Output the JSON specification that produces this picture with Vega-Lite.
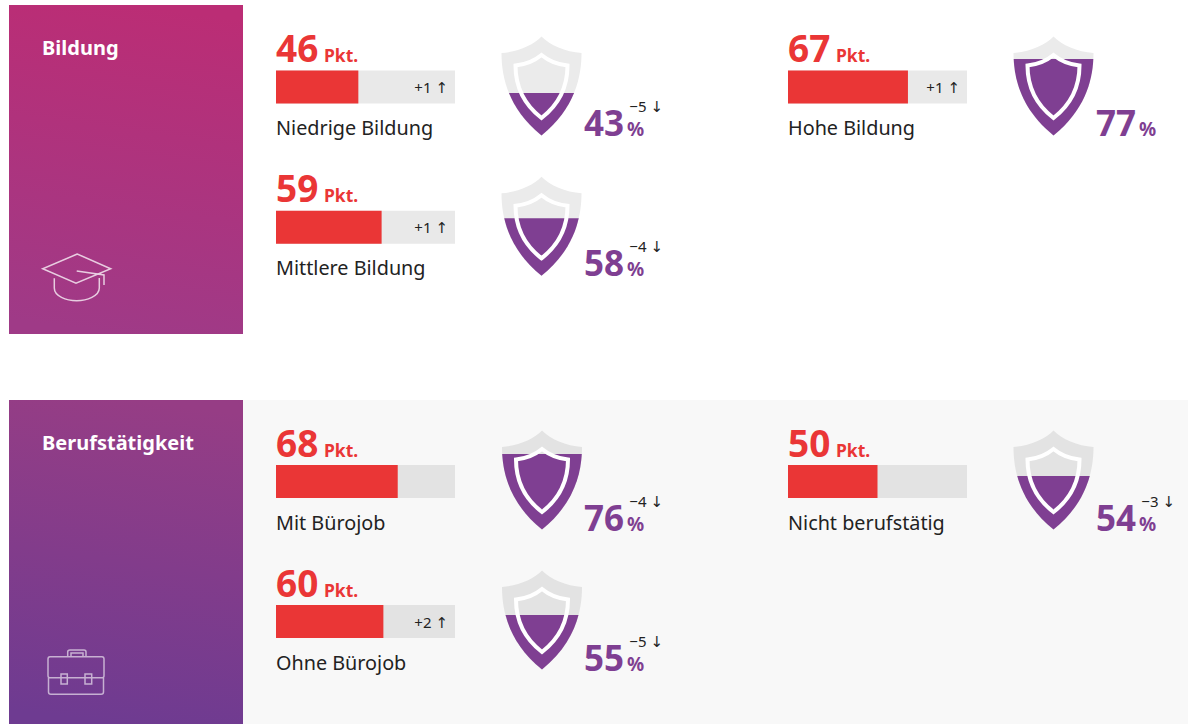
{"$schema":"https://vega.github.io/schema/vega-lite/v6.json","background":"white","padding":{"left":9,"top":5,"right":0,"bottom":0},"spacing":66,"config":{"view":{"stroke":null},"concat":{"spacing":0},"axis":{"disable":true},"text":{"font":"Noto Sans"},"point":{"opacity":1}},
"datasets":{"rows":[
{"group":"Bildung","label":"Niedrige Bildung","score":46,"scoreChange":"+1 ↑","pct":43,"pctChange":"−5 ↓"},
{"group":"Bildung","label":"Mittlere Bildung","score":59,"scoreChange":"+1 ↑","pct":58,"pctChange":"−4 ↓"},
{"group":"Bildung","label":"Hohe Bildung","score":67,"scoreChange":"+1 ↑","pct":77,"pctChange":""},
{"group":"Berufstätigkeit","label":"Mit Bürojob","score":68,"scoreChange":"","pct":76,"pctChange":"−4 ↓"},
{"group":"Berufstätigkeit","label":"Ohne Bürojob","score":60,"scoreChange":"+2 ↑","pct":55,"pctChange":"−5 ↓"},
{"group":"Berufstätigkeit","label":"Nicht berufstätig","score":50,"scoreChange":"","pct":54,"pctChange":"−3 ↓"}
],"groups":[{"group":"Bildung"},{"group":"Berufstätigkeit"}]},
"vconcat":[
{"hconcat":[
{"width":234,"height":329,"data":{"name":"groups"},"transform":[{"filter":"datum.group==='Bildung'"}],
"encoding":{"x":{"datum":0,"scale":{"domain":[0,1],"range":[0,234]},"axis":null},"y":{"datum":0,"scale":{"domain":[0,1],"range":[0,329]},"axis":null}},
"layer":[
{"mark":{"type":"rect","color":{"gradient":"linear","x1":0.55,"y1":0,"x2":0.45,"y2":1,"stops":[{"offset":0,"color":"#bb2d75"},{"offset":1,"color":"#9f3a87"}]}},"encoding":{"x2":{"datum":1},"y2":{"datum":1}}},
{"mark":{"type":"text","align":"left","baseline":"alphabetic","fontWeight":"bold","fontSize":20,"color":"white","xOffset":33,"yOffset":50},"encoding":{"text":{"field":"group"}}},
{"mark":{"type":"point","filled":false,"size":4,"stroke":"white","strokeWidth":1.5,"strokeOpacity":0.75,"xOffset":67,"yOffset":272,"shape":"M1.3 -23L-33.3 -8.3L0 6.3L34.7 -8.3ZM-21.7 1.3V11C-21.7 19 -10 23.7 .7 23.7C11 23.7 23.3 19 23.3 11V1M.7 -6L28 -2V8"},"encoding":{}}
]},
{"width":512,"height":329,"data":{"name":"rows"},"transform":[{"filter":{"field":"label","oneOf":["Niedrige Bildung","Mittlere Bildung"]}}],
"encoding":{"y":{"field":"label","type":"ordinal","scale":{"type":"point","domain":["Niedrige Bildung","Mittlere Bildung"],"range":[82,222.3],"padding":0},"axis":null}},
"layer":[
{"mark":{"type":"bar","height":33,"color":"#e9e9e9"},"encoding":{"x":{"datum":100,"scale":{"domain":[0,100],"range":[33,212]}},"x2":{"datum":0}}},
{"mark":{"type":"bar","height":33,"color":"#ea3636"},"encoding":{"x":{"field":"score","type":"quantitative","stack":null,"scale":{"domain":[0,100],"range":[33,212]}}}},
{"mark":{"type":"text","align":"left","baseline":"alphabetic","fontWeight":"bold","fontSize":37,"color":"#ea3636","yOffset":-25},"encoding":{"x":{"datum":0},"text":{"field":"score"}}},
{"mark":{"type":"text","align":"left","baseline":"alphabetic","fontWeight":"bold","fontSize":17.5,"color":"#ea3636","text":"Pkt.","xOffset":48,"yOffset":-25},"encoding":{"x":{"datum":0}}},
{"mark":{"type":"text","font":"Noto Sans, DejaVu Sans","align":"right","baseline":"alphabetic","fontSize":15,"color":"#222222","xOffset":-7,"yOffset":6},"encoding":{"x":{"datum":100},"text":{"field":"scoreChange"}}},
{"mark":{"type":"text","align":"left","baseline":"alphabetic","fontSize":19.8,"color":"#222222","yOffset":48},"encoding":{"x":{"datum":0},"text":{"field":"label"}}},
{"mark":{"type":"point","filled":true,"size":4,"color":"#ebebeb","xOffset":265.5,"yOffset":-1,"shape":"M0 -49.5C-8 -41 -24 -34 -40 -33C-40 -10 -34 22 0 49.5C34 22 40 -10 40 -33C24 -34 8 -41 0 -49.5Z"},"encoding":{"x":{"datum":0}}},
{"mark":{"type":"point","filled":true,"size":4,"color":"#7f3f92","xOffset":265.5,"yOffset":-1},"encoding":{"x":{"datum":0},"shape":{"field":"pct","type":"nominal","legend":null,"scale":{"domain":[43,58,77,76,55,54],"range":["M-32.56 7C-26.8 21.17 -16.83 35.89 0 49.5C16.83 35.89 26.8 21.17 32.56 7Z","M-37.23 -8C-33.08 10.44 -22.88 30.99 0 49.5C22.88 30.99 33.08 10.44 37.23 -8Z","M-39.83 -27C-38.8 -4.65 -31.14 24.31 0 49.5C31.14 24.31 38.8 -4.65 39.83 -27Z","M-39.8 -26C-38.55 -3.77 -30.67 24.7 0 49.5C30.67 24.7 38.55 -3.77 39.8 -26Z","M-36.48 -5C-31.95 12.64 -21.66 31.98 0 49.5C21.66 31.98 31.95 12.64 36.48 -5Z","M-36.23 -4C-31.56 13.37 -21.25 32.31 0 49.5C21.25 32.31 31.56 13.37 36.23 -4Z"]}}}},
{"mark":{"type":"point","filled":false,"size":4,"stroke":"white","strokeWidth":4,"xOffset":265.5,"yOffset":-1,"shape":"M0 -31C-6 -26 -16 -21.5 -26 -20.5C-26 -5 -22 15 0 32C22 15 26 -5 26 -20.5C16 -21.5 6 -26 0 -31Z"},"encoding":{"x":{"datum":0}}},
{"mark":{"type":"text","align":"right","baseline":"alphabetic","fontWeight":"bold","fontSize":35,"color":"#7f3f92","xOffset":348,"yOffset":49},"encoding":{"x":{"datum":0},"text":{"field":"pct"}}},
{"mark":{"type":"text","align":"left","baseline":"alphabetic","fontWeight":"bold","fontSize":19,"color":"#7f3f92","text":"%","xOffset":351,"yOffset":49},"encoding":{"x":{"datum":0}}},
{"mark":{"type":"text","font":"Noto Sans, DejaVu Sans","align":"right","baseline":"alphabetic","fontSize":15,"color":"#222222","xOffset":387,"yOffset":25},"encoding":{"x":{"datum":0},"text":{"field":"pctChange"}}}
]},
{"width":433,"height":329,"data":{"name":"rows"},"transform":[{"filter":{"field":"label","oneOf":["Hohe Bildung"]}}],
"encoding":{"y":{"field":"label","type":"ordinal","scale":{"type":"point","domain":["Hohe Bildung","(leer)"],"range":[82,222.3],"padding":0},"axis":null}},
"layer":[
{"mark":{"type":"bar","height":33,"color":"#e9e9e9"},"encoding":{"x":{"datum":100,"scale":{"domain":[0,100],"range":[33,212]}},"x2":{"datum":0}}},
{"mark":{"type":"bar","height":33,"color":"#ea3636"},"encoding":{"x":{"field":"score","type":"quantitative","stack":null,"scale":{"domain":[0,100],"range":[33,212]}}}},
{"mark":{"type":"text","align":"left","baseline":"alphabetic","fontWeight":"bold","fontSize":37,"color":"#ea3636","yOffset":-25},"encoding":{"x":{"datum":0},"text":{"field":"score"}}},
{"mark":{"type":"text","align":"left","baseline":"alphabetic","fontWeight":"bold","fontSize":17.5,"color":"#ea3636","text":"Pkt.","xOffset":48,"yOffset":-25},"encoding":{"x":{"datum":0}}},
{"mark":{"type":"text","font":"Noto Sans, DejaVu Sans","align":"right","baseline":"alphabetic","fontSize":15,"color":"#222222","xOffset":-7,"yOffset":6},"encoding":{"x":{"datum":100},"text":{"field":"scoreChange"}}},
{"mark":{"type":"text","align":"left","baseline":"alphabetic","fontSize":19.8,"color":"#222222","yOffset":48},"encoding":{"x":{"datum":0},"text":{"field":"label"}}},
{"mark":{"type":"point","filled":true,"size":4,"color":"#ebebeb","xOffset":265.5,"yOffset":-1,"shape":"M0 -49.5C-8 -41 -24 -34 -40 -33C-40 -10 -34 22 0 49.5C34 22 40 -10 40 -33C24 -34 8 -41 0 -49.5Z"},"encoding":{"x":{"datum":0}}},
{"mark":{"type":"point","filled":true,"size":4,"color":"#7f3f92","xOffset":265.5,"yOffset":-1},"encoding":{"x":{"datum":0},"shape":{"field":"pct","type":"nominal","legend":null,"scale":{"domain":[43,58,77,76,55,54],"range":["M-32.56 7C-26.8 21.17 -16.83 35.89 0 49.5C16.83 35.89 26.8 21.17 32.56 7Z","M-37.23 -8C-33.08 10.44 -22.88 30.99 0 49.5C22.88 30.99 33.08 10.44 37.23 -8Z","M-39.83 -27C-38.8 -4.65 -31.14 24.31 0 49.5C31.14 24.31 38.8 -4.65 39.83 -27Z","M-39.8 -26C-38.55 -3.77 -30.67 24.7 0 49.5C30.67 24.7 38.55 -3.77 39.8 -26Z","M-36.48 -5C-31.95 12.64 -21.66 31.98 0 49.5C21.66 31.98 31.95 12.64 36.48 -5Z","M-36.23 -4C-31.56 13.37 -21.25 32.31 0 49.5C21.25 32.31 31.56 13.37 36.23 -4Z"]}}}},
{"mark":{"type":"point","filled":false,"size":4,"stroke":"white","strokeWidth":4,"xOffset":265.5,"yOffset":-1,"shape":"M0 -31C-6 -26 -16 -21.5 -26 -20.5C-26 -5 -22 15 0 32C22 15 26 -5 26 -20.5C16 -21.5 6 -26 0 -31Z"},"encoding":{"x":{"datum":0}}},
{"mark":{"type":"text","align":"right","baseline":"alphabetic","fontWeight":"bold","fontSize":35,"color":"#7f3f92","xOffset":348,"yOffset":49},"encoding":{"x":{"datum":0},"text":{"field":"pct"}}},
{"mark":{"type":"text","align":"left","baseline":"alphabetic","fontWeight":"bold","fontSize":19,"color":"#7f3f92","text":"%","xOffset":351,"yOffset":49},"encoding":{"x":{"datum":0}}}
]}
]},
{"hconcat":[
{"width":234,"height":324,"data":{"name":"groups"},"transform":[{"filter":"datum.group==='Berufstätigkeit'"}],
"encoding":{"x":{"datum":0,"scale":{"domain":[0,1],"range":[0,234]},"axis":null},"y":{"datum":0,"scale":{"domain":[0,1],"range":[0,324]},"axis":null}},
"layer":[
{"mark":{"type":"rect","color":{"gradient":"linear","x1":0.55,"y1":0,"x2":0.45,"y2":1,"stops":[{"offset":0,"color":"#963d85"},{"offset":1,"color":"#6e3b91"}]}},"encoding":{"x2":{"datum":1},"y2":{"datum":1}}},
{"mark":{"type":"text","align":"left","baseline":"alphabetic","fontWeight":"bold","fontSize":20,"color":"white","xOffset":33,"yOffset":50},"encoding":{"text":{"field":"group"}}},
{"mark":{"type":"point","filled":false,"size":4,"stroke":"white","strokeWidth":1.5,"strokeOpacity":0.6,"xOffset":67,"yOffset":272,"shape":"M-26 -15.3H26Q28 -15.3 28 -13V3.7Q28 5.7 26 5.7H-26Q-28 5.7 -28 3.7V-13Q-28 -15.3 -26 -15.3ZM-27.5 5.7V20Q-27.5 22.3 -25 22.3H25Q27.5 22.3 27.5 20V5.7M-8.3 -15.3V-20Q-8.3 -22 -6 -22H8Q10 -22 10 -20V-15.3M-5 -15.3V-19H7V-15.3M-15 2H-8.7V12H-15ZM9 2H15.7V12H9Z"},"encoding":{}}
]},
{"width":512,"height":324,"view":{"fill":"#f8f8f8","stroke":null},"data":{"name":"rows"},"transform":[{"filter":{"field":"label","oneOf":["Mit Bürojob","Ohne Bürojob"]}}],
"encoding":{"y":{"field":"label","type":"ordinal","scale":{"type":"point","domain":["Mit Bürojob","Ohne Bürojob"],"range":[81.5,221.5],"padding":0},"axis":null}},
"layer":[
{"mark":{"type":"bar","height":33,"color":"#e3e3e3"},"encoding":{"x":{"datum":100,"scale":{"domain":[0,100],"range":[33,212]}},"x2":{"datum":0}}},
{"mark":{"type":"bar","height":33,"color":"#ea3636"},"encoding":{"x":{"field":"score","type":"quantitative","stack":null,"scale":{"domain":[0,100],"range":[33,212]}}}},
{"mark":{"type":"text","align":"left","baseline":"alphabetic","fontWeight":"bold","fontSize":37,"color":"#ea3636","yOffset":-25},"encoding":{"x":{"datum":0},"text":{"field":"score"}}},
{"mark":{"type":"text","align":"left","baseline":"alphabetic","fontWeight":"bold","fontSize":17.5,"color":"#ea3636","text":"Pkt.","xOffset":48,"yOffset":-25},"encoding":{"x":{"datum":0}}},
{"mark":{"type":"text","font":"Noto Sans, DejaVu Sans","align":"right","baseline":"alphabetic","fontSize":15,"color":"#222222","xOffset":-7,"yOffset":6},"encoding":{"x":{"datum":100},"text":{"field":"scoreChange"}}},
{"mark":{"type":"text","align":"left","baseline":"alphabetic","fontSize":19.8,"color":"#222222","yOffset":48},"encoding":{"x":{"datum":0},"text":{"field":"label"}}},
{"mark":{"type":"point","filled":true,"size":4,"color":"#e3e3e3","xOffset":266,"yOffset":-1.5,"shape":"M0 -49.5C-8 -41 -24 -34 -40 -33C-40 -10 -34 22 0 49.5C34 22 40 -10 40 -33C24 -34 8 -41 0 -49.5Z"},"encoding":{"x":{"datum":0}}},
{"mark":{"type":"point","filled":true,"size":4,"color":"#7f3f92","xOffset":266,"yOffset":-1.5},"encoding":{"x":{"datum":0},"shape":{"field":"pct","type":"nominal","legend":null,"scale":{"domain":[43,58,77,76,55,54],"range":["M-32.56 7C-26.8 21.17 -16.83 35.89 0 49.5C16.83 35.89 26.8 21.17 32.56 7Z","M-37.23 -8C-33.08 10.44 -22.88 30.99 0 49.5C22.88 30.99 33.08 10.44 37.23 -8Z","M-39.83 -27C-38.8 -4.65 -31.14 24.31 0 49.5C31.14 24.31 38.8 -4.65 39.83 -27Z","M-39.8 -26C-38.55 -3.77 -30.67 24.7 0 49.5C30.67 24.7 38.55 -3.77 39.8 -26Z","M-36.48 -5C-31.95 12.64 -21.66 31.98 0 49.5C21.66 31.98 31.95 12.64 36.48 -5Z","M-36.23 -4C-31.56 13.37 -21.25 32.31 0 49.5C21.25 32.31 31.56 13.37 36.23 -4Z"]}}}},
{"mark":{"type":"point","filled":false,"size":4,"stroke":"white","strokeWidth":4,"xOffset":266,"yOffset":-1.5,"shape":"M0 -31C-6 -26 -16 -21.5 -26 -20.5C-26 -5 -22 15 0 32C22 15 26 -5 26 -20.5C16 -21.5 6 -26 0 -31Z"},"encoding":{"x":{"datum":0}}},
{"mark":{"type":"text","align":"right","baseline":"alphabetic","fontWeight":"bold","fontSize":35,"color":"#7f3f92","xOffset":348,"yOffset":49},"encoding":{"x":{"datum":0},"text":{"field":"pct"}}},
{"mark":{"type":"text","align":"left","baseline":"alphabetic","fontWeight":"bold","fontSize":19,"color":"#7f3f92","text":"%","xOffset":351,"yOffset":49},"encoding":{"x":{"datum":0}}},
{"mark":{"type":"text","font":"Noto Sans, DejaVu Sans","align":"right","baseline":"alphabetic","fontSize":15,"color":"#222222","xOffset":387,"yOffset":25},"encoding":{"x":{"datum":0},"text":{"field":"pctChange"}}}
]},
{"width":433,"height":324,"view":{"fill":"#f8f8f8","stroke":null},"data":{"name":"rows"},"transform":[{"filter":{"field":"label","oneOf":["Nicht berufstätig"]}}],
"encoding":{"y":{"field":"label","type":"ordinal","scale":{"type":"point","domain":["Nicht berufstätig","(leer)"],"range":[81.5,221.5],"padding":0},"axis":null}},
"layer":[
{"mark":{"type":"bar","height":33,"color":"#e3e3e3"},"encoding":{"x":{"datum":100,"scale":{"domain":[0,100],"range":[33,212]}},"x2":{"datum":0}}},
{"mark":{"type":"bar","height":33,"color":"#ea3636"},"encoding":{"x":{"field":"score","type":"quantitative","stack":null,"scale":{"domain":[0,100],"range":[33,212]}}}},
{"mark":{"type":"text","align":"left","baseline":"alphabetic","fontWeight":"bold","fontSize":37,"color":"#ea3636","yOffset":-25},"encoding":{"x":{"datum":0},"text":{"field":"score"}}},
{"mark":{"type":"text","align":"left","baseline":"alphabetic","fontWeight":"bold","fontSize":17.5,"color":"#ea3636","text":"Pkt.","xOffset":48,"yOffset":-25},"encoding":{"x":{"datum":0}}},
{"mark":{"type":"text","align":"left","baseline":"alphabetic","fontSize":19.8,"color":"#222222","yOffset":48},"encoding":{"x":{"datum":0},"text":{"field":"label"}}},
{"mark":{"type":"point","filled":true,"size":4,"color":"#e3e3e3","xOffset":265.5,"yOffset":-1.5,"shape":"M0 -49.5C-8 -41 -24 -34 -40 -33C-40 -10 -34 22 0 49.5C34 22 40 -10 40 -33C24 -34 8 -41 0 -49.5Z"},"encoding":{"x":{"datum":0}}},
{"mark":{"type":"point","filled":true,"size":4,"color":"#7f3f92","xOffset":265.5,"yOffset":-1.5},"encoding":{"x":{"datum":0},"shape":{"field":"pct","type":"nominal","legend":null,"scale":{"domain":[43,58,77,76,55,54],"range":["M-32.56 7C-26.8 21.17 -16.83 35.89 0 49.5C16.83 35.89 26.8 21.17 32.56 7Z","M-37.23 -8C-33.08 10.44 -22.88 30.99 0 49.5C22.88 30.99 33.08 10.44 37.23 -8Z","M-39.83 -27C-38.8 -4.65 -31.14 24.31 0 49.5C31.14 24.31 38.8 -4.65 39.83 -27Z","M-39.8 -26C-38.55 -3.77 -30.67 24.7 0 49.5C30.67 24.7 38.55 -3.77 39.8 -26Z","M-36.48 -5C-31.95 12.64 -21.66 31.98 0 49.5C21.66 31.98 31.95 12.64 36.48 -5Z","M-36.23 -4C-31.56 13.37 -21.25 32.31 0 49.5C21.25 32.31 31.56 13.37 36.23 -4Z"]}}}},
{"mark":{"type":"point","filled":false,"size":4,"stroke":"white","strokeWidth":4,"xOffset":265.5,"yOffset":-1.5,"shape":"M0 -31C-6 -26 -16 -21.5 -26 -20.5C-26 -5 -22 15 0 32C22 15 26 -5 26 -20.5C16 -21.5 6 -26 0 -31Z"},"encoding":{"x":{"datum":0}}},
{"mark":{"type":"text","align":"right","baseline":"alphabetic","fontWeight":"bold","fontSize":35,"color":"#7f3f92","xOffset":348,"yOffset":49},"encoding":{"x":{"datum":0},"text":{"field":"pct"}}},
{"mark":{"type":"text","align":"left","baseline":"alphabetic","fontWeight":"bold","fontSize":19,"color":"#7f3f92","text":"%","xOffset":351,"yOffset":49},"encoding":{"x":{"datum":0}}},
{"mark":{"type":"text","font":"Noto Sans, DejaVu Sans","align":"right","baseline":"alphabetic","fontSize":15,"color":"#222222","xOffset":387,"yOffset":25},"encoding":{"x":{"datum":0},"text":{"field":"pctChange"}}}
]}
]}
]}
